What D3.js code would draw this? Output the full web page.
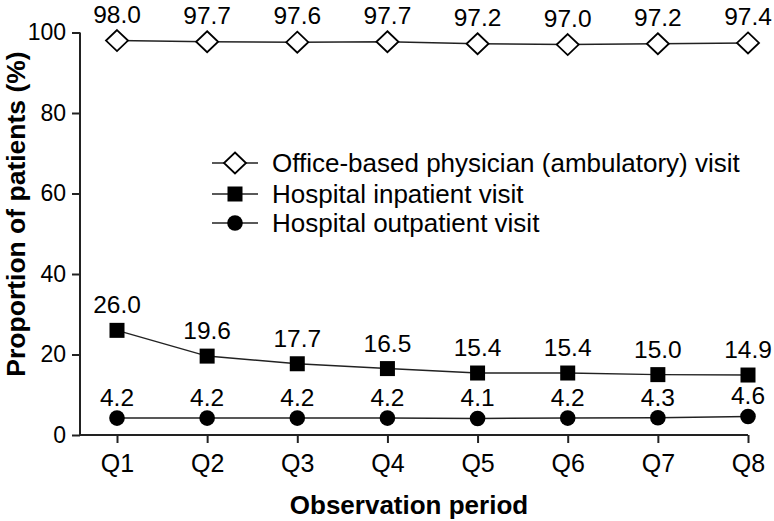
<!DOCTYPE html>
<html><head><meta charset="utf-8">
<script src="https://cdn.jsdelivr.net/npm/d3@7"></script>
<style>body{margin:0;background:#fff}svg{display:block}</style>
</head><body>
<svg id="c" width="774" height="521"></svg>
<script>
const categories = ["Q1","Q2","Q3","Q4","Q5","Q6","Q7","Q8"];
const officeValues = [98.0,97.7,97.6,97.7,97.2,97.0,97.2,97.4];
const inpatientValues = [26.0,19.6,17.7,16.5,15.4,15.4,15.0,14.9];
const outpatientValues = [4.2,4.2,4.2,4.2,4.1,4.2,4.3,4.6];
const yTicks = [0,20,40,60,80,100];
const seriesNames = ["Office-based physician (ambulatory) visit","Hospital inpatient visit","Hospital outpatient visit"];

const svg = d3.select("#c");
const font = "'Liberation Sans', Arial, sans-serif";
const x = d3.scalePoint().domain(categories).range([117, 748]);
const y = d3.scaleLinear().domain([0,100]).range([435, 32.5]);
const axisColor = "#222";

// axes
const yAxis = svg.append("g").attr("transform","translate(80,0)")
  .call(d3.axisLeft(y).tickValues(yTicks).tickSize(8).tickPadding(6).tickSizeOuter(0));
const xAxis = svg.append("g").attr("transform","translate(0,435)")
  .call(d3.axisBottom(x).tickSize(8).tickPadding(11).tickSizeOuter(0));
xAxis.select(".domain").attr("d","M80,0H748");
[yAxis,xAxis].forEach(a=>{
  a.selectAll(".domain,line").attr("stroke",axisColor).attr("stroke-width",2);
  a.selectAll("text").attr("font-family",font).attr("fill","#000");
});
yAxis.selectAll("text").attr("font-size",23);
xAxis.selectAll("text").attr("font-size",25);
yAxis.select(".domain").attr("d","M0,"+y(100)+"V435");

// titles
svg.append("text").attr("transform","translate(25,214) rotate(-90)")
  .attr("text-anchor","middle").attr("font-family",font).attr("font-weight","bold")
  .attr("font-size",26.5).text("Proportion of patients (%)");
svg.append("text").attr("x",409).attr("y",514).attr("text-anchor","middle")
  .attr("font-family",font).attr("font-weight","bold").attr("font-size",26).text("Observation period");

const series = [
  {name:seriesNames[0], values:officeValues, shape:"diamond", labelGap:18},
  {name:seriesNames[1], values:inpatientValues, shape:"square", labelGap:17},
  {name:seriesNames[2], values:outpatientValues, shape:"circle", labelGap:12}
];
const line = d3.line().x((d,i)=>x(categories[i])).y(d=>y(d));

function marker(g, shape){
  if(shape==="diamond"){
    g.append("path").attr("d","M0,-10.5L11,0L0,10.5L-11,0Z").attr("fill","#fff").attr("stroke","#000").attr("stroke-width",1.8);
  } else if(shape==="square"){
    g.append("rect").attr("x",-7.5).attr("y",-7.5).attr("width",15).attr("height",15).attr("fill","#000");
  } else {
    g.append("circle").attr("r",7.8).attr("fill","#000");
  }
}

series.forEach(s=>{
  svg.append("path").datum(s.values).attr("d",line).attr("fill","none")
    .attr("stroke","#222").attr("stroke-width",1.5);
  s.values.forEach((v,i)=>{
    const g = svg.append("g").attr("transform","translate("+x(categories[i])+","+y(v)+")");
    marker(g, s.shape);
    svg.append("text").attr("x",x(categories[i])).attr("y",y(v)-s.labelGap).attr("text-anchor","middle")
      .attr("font-family",font).attr("font-size",24.5).attr("fill","#000").text(v.toFixed(1));
  });
});

// legend
const legY = [163,194,223];
series.forEach((s,i)=>{
  svg.append("line").attr("x1",212).attr("x2",258).attr("y1",legY[i]).attr("y2",legY[i])
    .attr("stroke","#222").attr("stroke-width",1.5);
  const g = svg.append("g").attr("transform","translate(235,"+legY[i]+")");
  marker(g, s.shape);
  svg.append("text").attr("x",272).attr("y",legY[i]+8.5).attr("font-family",font)
    .attr("font-size",26).attr("fill","#000").text(s.name);
});
</script>
</body></html>
